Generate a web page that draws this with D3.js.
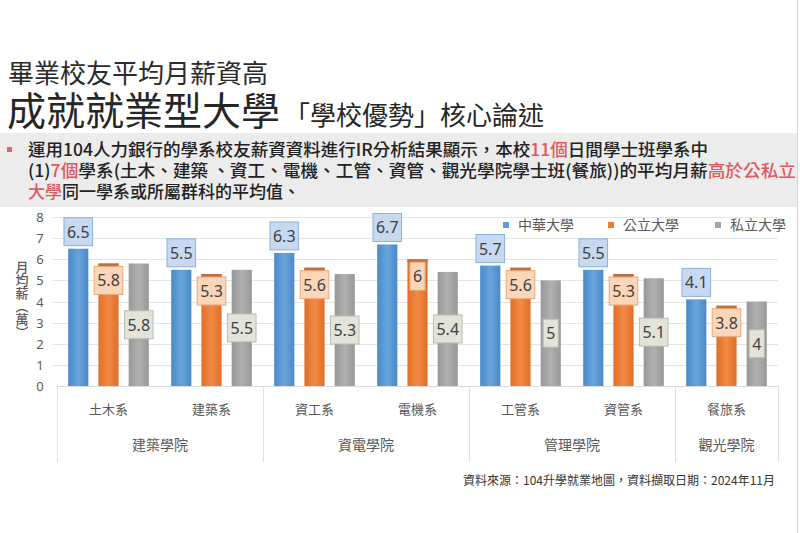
<!DOCTYPE html>
<html>
<head>
<meta charset="utf-8">
<script src="https://cdn.jsdelivr.net/npm/d3@7"></script>
<style>
  body { margin: 0; background: #fff; }
  svg { display: block; font-family: "Noto Sans CJK TC", "Noto Sans", sans-serif; }
</style>
</head>
<body>
<div id="canvas"></div>
<script>
// departments, colleges and salaries (萬)
var depts = ["土木系", "建築系", "資工系", "電機系", "工管系", "資管系", "餐旅系"];
var collegeNames = ["建築學院", "資電學院", "管理學院", "觀光學院"];
var collegeSizes = [2, 2, 2, 1];
var seriesNames = ["中華大學", "公立大學", "私立大學"];
var chuValues = [6.5, 5.5, 6.3, 6.7, 5.7, 5.5, 4.1];
var publicValues = [5.8, 5.3, 5.6, 6, 5.6, 5.3, 3.8];
var privateValues = [5.8, 5.5, 5.3, 5.4, 5, 5.1, 4];
var yTicks = [0, 1, 2, 3, 4, 5, 6, 7, 8];

draw();

function draw() {
    var w = 800, h = 533;
    var svg = d3.select("#canvas").append("svg")
        .attr("width", w)
        .attr("height", h);

    var defs = svg.append("defs");
    var barColors = [["#4a88c9", "#68a5de"], ["#e06f26", "#f28a45"], ["#989898", "#b0b0b0"]];
    barColors.forEach(function(c, i) {
        var g = defs.append("linearGradient").attr("id", "g" + i)
            .attr("x1", 0).attr("x2", 1).attr("y1", 0).attr("y2", 0);
        g.append("stop").attr("offset", "0%").attr("stop-color", c[0]);
        g.append("stop").attr("offset", "50%").attr("stop-color", c[1]);
        g.append("stop").attr("offset", "100%").attr("stop-color", c[0]);
    });

    // right frame edge
    svg.append("line").attr("x1", 797.5).attr("x2", 797.5).attr("y1", 0).attr("y2", h)
        .attr("stroke", "#d6d6d6");

    // titles
    svg.append("text").attr("x", 8).attr("y", 83)
        .attr("font-size", 26).attr("fill", "#2b2b2b")
        .text("畢業校友平均月薪資高");
    var t2 = svg.append("text").attr("x", 7).attr("y", 125).attr("fill", "#262626");
    t2.append("tspan").attr("font-size", 39).text("成就就業型大學");
    t2.append("tspan").attr("font-size", 26).attr("dx", 4).text("「學校優勢」核心論述");

    // bullet block
    svg.append("rect").attr("x", 0).attr("y", 133).attr("width", 797).attr("height", 74)
        .attr("fill", "#ececec");
    svg.append("rect").attr("x", 7).attr("y", 147).attr("width", 5).attr("height", 5)
        .attr("fill", "#e0646c");

    var red = "#e0585f", dark = "#222";
    var lines = [
        {len: 680, parts: [["運用104人力銀行的學系校友薪資資料進行IR分析結果顯示，本校", dark], ["11個", red], ["日間學士班學系中", dark]]},
        {len: 768, parts: [["(1)", dark], ["7個", red], ["學系(土木、建築 、資工、電機、工管、資管、觀光學院學士班(餐旅))的平均月薪", dark], ["高於公私立", red]]},
        {len: 272, parts: [["大學", red], ["同一學系或所屬群科的平均值、", dark]]}
    ];
    lines.forEach(function(l, i) {
        var t = svg.append("text").attr("x", 28).attr("y", 156 + i * 21)
            .attr("font-size", 17).attr("font-weight", 500)
            .attr("textLength", l.len).attr("lengthAdjust", "spacingAndGlyphs");
        l.parts.forEach(function(p) {
            t.append("tspan").attr("fill", p[1]).text(p[0]);
        });
    });

    // chart area
    var x0 = 57, x9 = 778, yTop = 217, yBase = 386;
    var yScale = d3.scaleLinear().domain([0, 8]).range([yBase, yTop]);
    var xScale = d3.scaleBand().domain(depts).range([x0, x9]);
    var x1 = d3.scaleBand().domain(seriesNames).range([0, xScale.bandwidth()])
        .paddingInner(1 / 3).paddingOuter(0.37);

    // gridlines
    svg.append("g").selectAll("line").data(yTicks.slice(1)).join("line")
        .attr("x1", x0 - 4).attr("x2", x9)
        .attr("y1", function(d) { return Math.round(yScale(d)) + 0.5; })
        .attr("y2", function(d) { return Math.round(yScale(d)) + 0.5; })
        .attr("stroke", "#e4e4e4");

    // y labels
    svg.append("g").selectAll("text").data(yTicks).join("text")
        .attr("x", 40).attr("y", function(d) { return yScale(d) + 5; })
        .attr("text-anchor", "middle").attr("font-size", 13).attr("fill", "#595959")
        .attr("font-family", "Noto Sans, sans-serif")
        .text(function(d) { return d; });

    // y title, written vertically
    svg.append("text")
        .attr("x", 22).attr("y", 261)
        .style("writing-mode", "vertical-rl")
        .attr("font-size", 13).attr("font-weight", 500)
        .attr("fill", "#595959")
        .text("月均薪（萬）");

    // category axis
    svg.append("line").attr("x1", x0).attr("x2", x9)
        .attr("y1", yBase + 0.5).attr("y2", yBase + 0.5).attr("stroke", "#d9d9d9");

    var collegeBounds = [];
    var start = 0;
    collegeSizes.forEach(function(s, i) {
        collegeBounds.push({name: collegeNames[i], from: depts[start], to: depts[start + s - 1]});
        start += s;
    });
    var seps = [x0].concat(collegeBounds.map(function(c) { return xScale(c.to) + xScale.bandwidth(); }));
    svg.append("g").selectAll("line").data(seps).join("line")
        .attr("x1", function(d) { return Math.round(d) + 0.5; })
        .attr("x2", function(d) { return Math.round(d) + 0.5; })
        .attr("y1", yBase).attr("y2", 462)
        .attr("stroke", "#e0e0e0");

    svg.append("g").selectAll("text").data(depts).join("text")
        .attr("x", function(d) { return xScale(d) + xScale.bandwidth() / 2; })
        .attr("y", 414).attr("text-anchor", "middle")
        .attr("font-size", 13).attr("fill", "#595959")
        .text(function(d) { return d; });

    svg.append("g").selectAll("text").data(collegeBounds).join("text")
        .attr("x", function(d) { return (xScale(d.from) + xScale(d.to) + xScale.bandwidth()) / 2; })
        .attr("y", 450).attr("text-anchor", "middle")
        .attr("font-size", 14).attr("fill", "#595959")
        .text(function(d) { return d.name; });

    // bars
    var series = [chuValues, publicValues, privateValues];
    var rows = [];
    depts.forEach(function(d, i) {
        series.forEach(function(s, j) {
            rows.push({dept: d, name: seriesNames[j], idx: j, value: s[i]});
        });
    });

    svg.append("g").selectAll("rect").data(rows).join("rect")
        .attr("x", function(d) { return xScale(d.dept) + x1(d.name); })
        .attr("y", function(d) { return yScale(d.value); })
        .attr("width", x1.bandwidth())
        .attr("height", function(d) { return yBase - yScale(d.value); })
        .attr("fill", function(d) { return "url(#g" + d.idx + ")"; });

    // dark cap on orange bars
    svg.append("g").selectAll("rect").data(rows.filter(function(d) { return d.idx == 1; })).join("rect")
        .attr("x", function(d) { return xScale(d.dept) + x1(d.name); })
        .attr("y", function(d) { return yScale(d.value); })
        .attr("width", x1.bandwidth())
        .attr("height", 3)
        .attr("fill", "#c0703f");

    // data labels
    var boxFill = ["#c6d9f1", "#fbd6b8", "#e3e4d9"];
    var boxStroke = ["#8cb0de", "#e9a77a", "#b9bbb0"];
    var boxH = 28;
    var labels = svg.append("g").selectAll("g").data(rows).join("g")
        .attr("transform", function(d) {
            var cx = xScale(d.dept) + x1(d.name) + x1.bandwidth() / 2;
            var y0 = yScale(d.value), cy;
            if (d.idx == 0) cy = y0 - 3 - boxH / 2;
            else if (d.idx == 1) cy = y0 + 3 + boxH / 2;
            else cy = (y0 + yBase) / 2;
            return "translate(" + cx + "," + cy + ")";
        });
    labels.append("text")
        .attr("text-anchor", "middle").attr("y", 6)
        .attr("font-size", 16).attr("fill", "#404040")
        .attr("font-family", "Noto Sans, sans-serif")
        .text(function(d) { return d.value; });
    labels.each(function(d) {
        var g = d3.select(this);
        var bw = g.select("text").node().getComputedTextLength() + 6;
        g.insert("rect", "text")
            .attr("x", -bw / 2).attr("y", -boxH / 2)
            .attr("width", bw).attr("height", boxH)
            .attr("fill", boxFill[d.idx]).attr("stroke", boxStroke[d.idx]);
    });

    // legend
    var legX = [503, 608, 715];
    var legColors = ["#5b9bd5", "#ed7d31", "#a5a5a5"];
    var leg = svg.append("g").selectAll("g").data(seriesNames).join("g")
        .attr("transform", function(d, i) { return "translate(" + legX[i] + ",225)"; });
    leg.append("rect").attr("x", 0).attr("y", -3).attr("width", 6).attr("height", 6)
        .attr("fill", function(d, i) { return legColors[i]; });
    leg.append("text").attr("x", 15).attr("y", 5)
        .attr("font-size", 14).attr("fill", "#595959")
        .text(function(d) { return d; });

    // source note
    svg.append("text").attr("x", 775).attr("y", 485).attr("text-anchor", "end")
        .attr("font-size", 12).attr("fill", "#333")
        .text("資料來源：104升學就業地圖，資料擷取日期：2024年11月");
}
</script>
</body>
</html>
